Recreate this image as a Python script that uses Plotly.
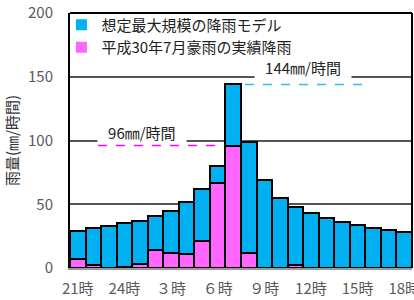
import plotly.graph_objects as go

hours = ["21時", "22時", "23時", "24時"] + [f"{h}時" for h in range(1, 19)]
model_rain = [29, 31, 33, 35, 37, 41, 45, 51.5, 62, 80, 144, 99, 69, 55, 48, 43, 39, 36, 33.5, 31.5, 29.5, 28.5]
actual_rain = [7, 2, 0, 1, 3.5, 14.5, 12, 11, 21, 67, 96, 12, 0, 0, 2, 0, 0, 0, 0, 0, 0, 0]
tick_vals = hours[::3]
tick_text = ["21時", "24時", "３時", "６時", "９時", "12時", "15時", "18時"]
name_model = "想定最大規模の降雨モデル"
name_actual = "平成30年7月豪雨の実績降雨"
y_ticks = [0, 50, 100, 150, 200]

CYAN = "#00B0F0"
MAGENTA = "#FF66FF"
FONT = "Noto Sans CJK JP"

fig = go.Figure()
fig.add_trace(go.Bar(x=hours, y=model_rain, marker=dict(color=CYAN, line=dict(color="black", width=2)),
                     showlegend=False, name=name_model))
fig.add_trace(go.Bar(x=hours, y=actual_rain, marker=dict(color=MAGENTA, line=dict(color="black", width=2)),
                     showlegend=False, name=name_actual))
# legend entries (plain squares)
fig.add_trace(go.Scatter(x=[None], y=[None], mode="markers", name=name_model,
                         marker=dict(symbol="square", size=11, color=CYAN)))
fig.add_trace(go.Scatter(x=[None], y=[None], mode="markers", name=name_actual,
                         marker=dict(symbol="square", size=11, color=MAGENTA)))

peak_actual = max(actual_rain)
peak_model = max(model_rain)

# reference dashed lines
fig.add_shape(type="line", xref="x", yref="y", x0=1.3, x1=8.96, y0=peak_actual, y1=peak_actual,
              line=dict(color="#FF00FF", width=1.5, dash="dash"))
fig.add_shape(type="line", xref="x", yref="y", x0=10.76, x1=18.35, y0=peak_model, y1=peak_model,
              line=dict(color="#33BBEE", width=1.5, dash="dash"))
# top and right frame
fig.add_shape(type="line", xref="paper", yref="paper", x0=0, x1=1, y0=1, y1=1, line=dict(color="black", width=2))
fig.add_shape(type="line", xref="paper", yref="paper", x0=1, x1=1, y0=0, y1=1, line=dict(color="black", width=2))

pad = "\u00a0" * 3
fig.add_annotation(x=4.13, y=106, xref="x", yref="y", text=f"{pad}{peak_actual:g}㎜/時間{pad}", showarrow=False,
                   bgcolor="white", borderpad=0, font=dict(family=FONT, size=15, color="#222"))
fig.add_annotation(x=14.49, y=157, xref="x", yref="y", text=f"{pad}{peak_model:g}㎜/時間{pad}", showarrow=False,
                   bgcolor="white", borderpad=0, font=dict(family=FONT, size=15, color="#222"))

fig.update_layout(
    width=414, height=300,
    margin=dict(l=70, r=2, t=13, b=32),
    paper_bgcolor="white", plot_bgcolor="white",
    barmode="overlay", bargap=0,
    font=dict(family=FONT, color="#595959"),
    legend=dict(x=-0.025, y=1.018, xanchor="left", yanchor="top", bgcolor="rgba(0,0,0,0)",
                font=dict(family=FONT, size=15, color="#222"), itemwidth=30, tracegroupgap=0),
    xaxis=dict(type="category", categoryorder="array", categoryarray=hours,
               tickvals=tick_vals, ticktext=tick_text, range=[-0.5, 21.5], automargin=False,
               showgrid=False, showline=True, linecolor="#999", linewidth=2, ticks="",
               tickfont=dict(family=FONT, size=15, color="#595959"), ticklabelstandoff=6),
    yaxis=dict(range=[0, 200], tickvals=y_ticks, showgrid=True, gridcolor="#555", gridwidth=1.5,
               showline=True, linecolor="black", linewidth=2, ticks="", zeroline=False, automargin=False,
               tickfont=dict(family=FONT, size=15, color="#595959"), ticklabelstandoff=12,
               title=dict(text="雨量(㎜/時間)", font=dict(family=FONT, size=15, color="#333"), standoff=6)),
)

fig.write_html("out.html", config={"displayModeBar": False},
               post_script="document.body.style.margin='0';")
